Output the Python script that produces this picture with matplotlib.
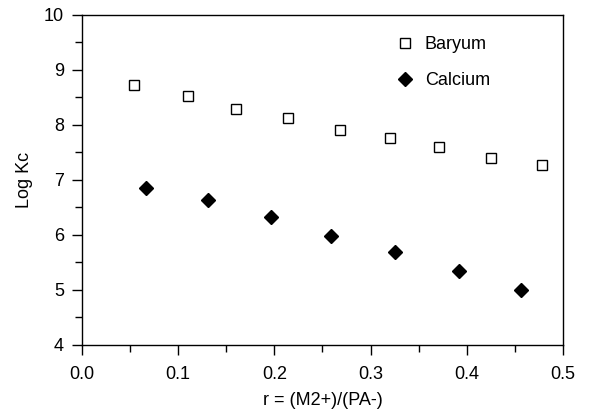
import numpy as np
import matplotlib
matplotlib.use('Agg')
import matplotlib.pyplot as plt
from matplotlib.ticker import MultipleLocator

## data
ba_r = [0.054, 0.110, 0.160, 0.214, 0.268, 0.320, 0.371, 0.425, 0.478]
ba_logkc = [8.73, 8.53, 8.29, 8.12, 7.91, 7.77, 7.60, 7.40, 7.27]
ca_r = [0.067, 0.131, 0.196, 0.259, 0.325, 0.392, 0.456]
ca_logkc = [6.86, 6.64, 6.33, 5.98, 5.68, 5.35, 4.99]

plt.rcParams['font.family'] = ['Liberation Sans', 'DejaVu Sans']
plt.rcParams['font.size'] = 13

fig = plt.figure(figsize=(5.89, 4.15), dpi=100)
ax = fig.add_axes([0.139, 0.169, 0.817, 0.795])

ax.plot(ba_r, ba_logkc, ls='none', marker='s', ms=7.5, mfc='white',
        mec='black', mew=1.0, label='Baryum')
ax.plot(ca_r, ca_logkc, ls='none', marker='D', ms=7.5, mfc='black',
        mec='black', label='Calcium')

ax.set_xlim(0, 0.5)
ax.set_ylim(4, 10)
ax.xaxis.set_major_locator(MultipleLocator(0.1))
ax.xaxis.set_minor_locator(MultipleLocator(0.05))
ax.yaxis.set_major_locator(MultipleLocator(1))
ax.yaxis.set_minor_locator(MultipleLocator(0.5))
ax.xaxis.set_major_formatter(plt.FormatStrFormatter('%.1f'))
ax.tick_params(which='major', direction='out', length=7, width=1,
               labelsize=13, pad=6)
ax.tick_params(axis='x', which='major', pad=8)
ax.tick_params(which='minor', direction='out', length=5, width=1)
for s in ax.spines.values():
    s.set_linewidth(1.0)

ax.set_xlabel('r = (M2+)/(PA-)', fontsize=13, labelpad=7)
ax.set_ylabel('Log Kc', fontsize=13, labelpad=8)

ax.legend(loc='upper left', frameon=False, fontsize=13, handletextpad=0.5,
          labelspacing=1.05, borderaxespad=0, handlelength=1.2,
          bbox_to_anchor=(0.634, 0.958))

fig.savefig('out.png', dpi=100)
